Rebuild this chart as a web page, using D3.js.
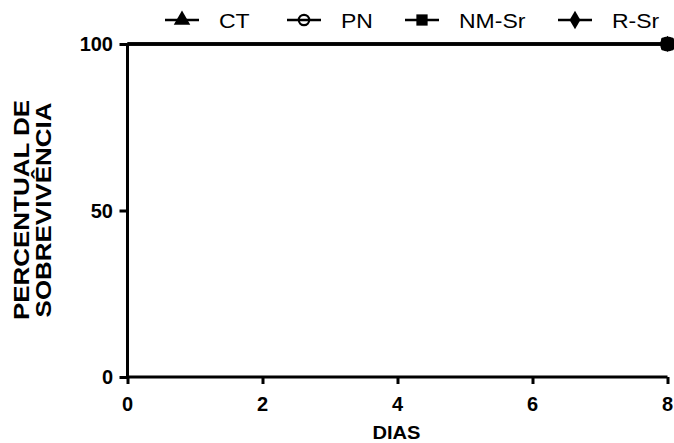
<!DOCTYPE html>
<html><head><meta charset="utf-8">
<script src="https://cdn.jsdelivr.net/npm/d3@7"></script>
<style>body{margin:0;background:#fff}svg{display:block}text{font-family:"Liberation Sans",Arial,sans-serif}</style>
</head><body><svg id="c" width="674" height="443"></svg>
<script>
const days = [0, 8];
const seriesNames = ["CT", "PN", "NM-Sr", "R-Sr"];
const seriesSymbols = ["triangle", "circleOpen", "square", "diamond"];
const ctValues = [100, 100];
const pnValues = [100, 100];
const nmSrValues = [100, 100];
const rSrValues = [100, 100];
const xTicks = [0, 2, 4, 6, 8];
const yTicks = [0, 50, 100];
const xTitle = "DIAS";
const yTitleLines = ["PERCENTUAL DE", "SOBREVIVÊNCIA"];

const svg = d3.select("#c");
const x = d3.scaleLinear().domain([0, 8]).range([127.5, 667.5]);
const y = d3.scaleLinear().domain([0, 100]).range([377, 44]);

const xAxis = svg.append("g").attr("transform", "translate(0,377)")
  .call(d3.axisBottom(x).tickValues(xTicks).tickSize(7).tickFormat(() => ""));
const yAxis = svg.append("g").attr("transform", "translate(127.5,0)")
  .call(d3.axisLeft(y).tickValues(yTicks).tickSize(8).tickFormat(() => ""));
[xAxis, yAxis].forEach(a => {
  a.select(".domain").attr("stroke", "#000").attr("stroke-width", 3);
  a.selectAll(".tick line").attr("stroke", "#000").attr("stroke-width", 3);
  a.selectAll(".tick text").remove();
});
xAxis.select(".domain").attr("d", `M${x(0)},0H${x(8)}`);
yAxis.select(".domain").attr("d", `M0,${y(0)}V${y(100)}`);

const fmt = d3.format("d");
svg.append("g").selectAll("text").data(xTicks).join("text")
  .attr("x", d => x(d)).attr("y", 411).attr("text-anchor", "middle")
  .style("font-size", "20px").style("font-weight", "bold").attr("fill", "#000").text(fmt);
svg.append("g").selectAll("text").data(yTicks).join("text")
  .attr("x", 113).attr("y", d => y(d) + 7.2).attr("text-anchor", "end")
  .style("font-size", "20px").style("font-weight", "bold").attr("fill", "#000").text(fmt);

svg.append("text").attr("transform", `translate(${(x(0) + x(8)) / 2 - 1},439) scale(1.06,1)`).attr("text-anchor", "middle")
  .style("font-size", "19px").style("font-weight", "bold").text(xTitle);
const yt = svg.append("text").attr("transform", "translate(0,210) rotate(-90) scale(1.18,1)").attr("text-anchor", "middle")
  .style("font-size", "22px").style("font-weight", "bold");
yTitleLines.forEach((t, i) => yt.append("tspan").attr("x", 0).attr("y", 29 + i * 22).text(t));

const allValues = [ctValues, pnValues, nmSrValues, rSrValues];
function symbol(g, kind, cx, cy, size) {
  if (kind === "circleOpen") {
    g.append("circle").attr("cx", cx).attr("cy", cy).attr("r", size * 0.4).attr("fill", "none").attr("stroke", "#000").attr("stroke-width", 2.2);
  } else {
    const t = kind === "triangle" ? d3.symbolTriangle : kind === "square" ? d3.symbolSquare : d3.symbolDiamond;
    const area = kind === "square" ? size * size * 0.75 : kind === "triangle" ? size * size * 0.7 : size * size * 0.6;
    g.append("path").attr("d", d3.symbol(t, area)()).attr("transform", `translate(${cx},${cy})`).attr("fill", "#000");
  }
}
const line = d3.line().x((d, i) => x(days[i])).y(d => y(d)).curve(d3.curveStepAfter);
allValues.forEach((vals) => {
  svg.append("path").datum(vals).attr("d", line).attr("fill", "none").attr("stroke", "#000").attr("stroke-width", 3);
});
allValues.forEach((vals, si) => {
  const last = vals.length - 1;
  const cx = x(days[last]), cy = y(vals[last]);
  const k = seriesSymbols[si];
  if (k === "circleOpen") {
    svg.append("circle").attr("cx", cx).attr("cy", cy).attr("r", 7.5).attr("fill", "#000");
  } else if (k === "square") {
    svg.append("rect").attr("x", cx - 6.5).attr("y", cy - 6.5).attr("width", 13).attr("height", 13).attr("rx", 2).attr("fill", "#000");
  } else {
    symbol(svg, k, cx, cy, 11);
  }
});

const legendX = [165, 287, 405, 558];
seriesNames.forEach((n, i) => {
  const g = svg.append("g");
  const lx = legendX[i];
  g.append("line").attr("x1", lx).attr("x2", lx + 34).attr("y1", 20).attr("y2", 20).attr("stroke", "#000").attr("stroke-width", 2.5);
  symbol(g, seriesSymbols[i], lx + 17, 20, 13);
  g.append("text").attr("transform", `translate(${lx + 54},28) scale(1.15,1)`).style("font-size", "20px").attr("fill", "#000").text(n);
});
</script></body></html>
